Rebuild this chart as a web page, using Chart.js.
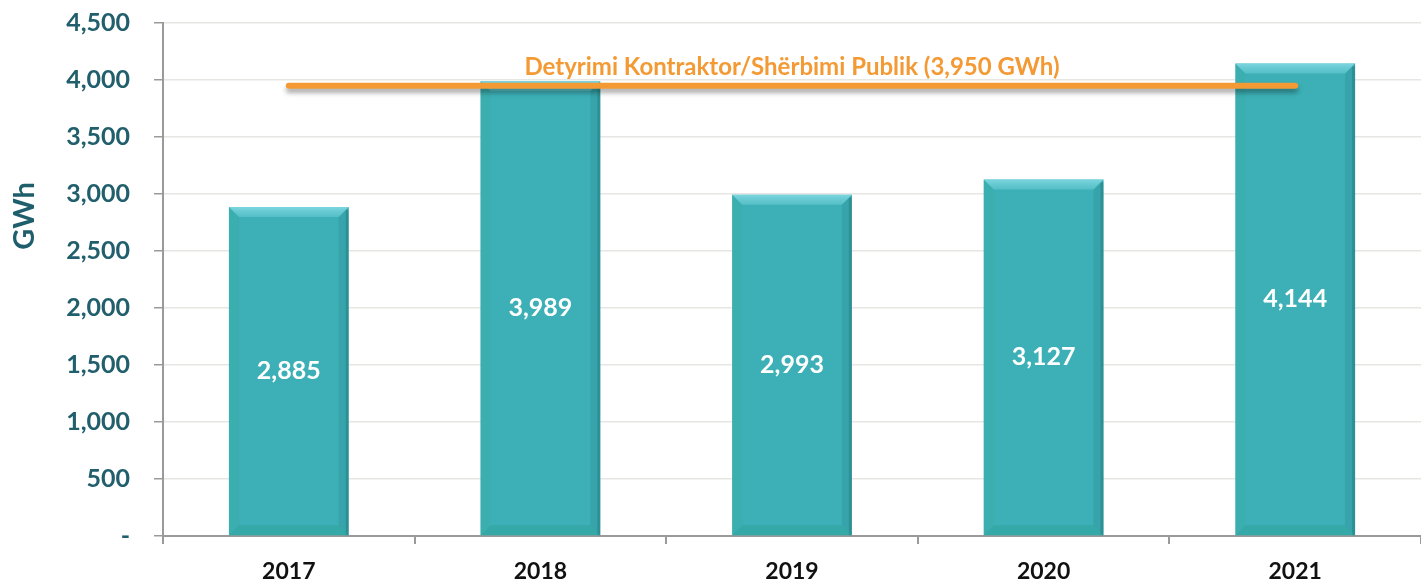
<!DOCTYPE html>
<html><head><meta charset="utf-8">
<script src="https://cdn.jsdelivr.net/npm/chart.js@4/dist/chart.umd.min.js"></script>
<style>html,body{margin:0;padding:0;background:#fff;}#wrap{width:1421px;height:582px;position:relative;}</style>
</head><body><div id="wrap"><canvas id="c" width="1421" height="582"></canvas></div>
<script>
const categories = ['2017','2018','2019','2020','2021'];
const production = [2885, 3989, 2993, 3127, 4144];
const obligation = [3950, 3950, 3950, 3950, 3950];
const obligationLabel = 'Detyrimi Kontraktor/Shërbimi Publik (3,950 GWh)';
const yTicks = [0,500,1000,1500,2000,2500,3000,3500,4000,4500];
const yTitle = 'GWh';

const FONT = 'Lato';
const fmt = v => v === 0 ? '-' : v.toLocaleString('en-US');

const bevelPlugin = {
  id: 'bevel',
  afterDatasetDraw(chart, args) {
    if (args.index !== 0) return;
    const ctx = chart.ctx;
    const meta = chart.getDatasetMeta(0);
    meta.data.forEach((bar, i) => {
      const l = bar.x - bar.width/2, r = bar.x + bar.width/2, t = bar.y, b = bar.base;
      const bw = 10;
      ctx.save();
      // right darker strip
      ctx.fillStyle = 'rgba(30,120,125,0.2)';
      ctx.beginPath(); ctx.moveTo(r, t); ctx.lineTo(r-bw, t+bw); ctx.lineTo(r-bw, b-bw); ctx.lineTo(r, b); ctx.closePath(); ctx.fill();
      ctx.fillStyle = 'rgba(30,110,115,0.35)';
      ctx.fillRect(r-3, t+3, 3, b-t-3);
      // top highlight
      const g = ctx.createLinearGradient(0, t, 0, t+bw);
      g.addColorStop(0, 'rgba(135,220,230,0.85)');
      g.addColorStop(1, 'rgba(110,205,215,0.5)');
      ctx.fillStyle = g;
      ctx.beginPath(); ctx.moveTo(l, t); ctx.lineTo(r, t); ctx.lineTo(r-bw, t+bw); ctx.lineTo(l+bw, t+bw); ctx.closePath(); ctx.fill();
      // bottom
      ctx.fillStyle = 'rgba(40,150,135,0.3)';
      ctx.beginPath(); ctx.moveTo(l, b); ctx.lineTo(r, b); ctx.lineTo(r-bw, b-bw); ctx.lineTo(l+bw, b-bw); ctx.closePath(); ctx.fill();
      // left
      ctx.fillStyle = 'rgba(60,170,160,0.3)';
      ctx.beginPath(); ctx.moveTo(l, t); ctx.lineTo(l+bw, t+bw); ctx.lineTo(l+bw, b-bw); ctx.lineTo(l, b); ctx.closePath(); ctx.fill();
      // value
      ctx.fillStyle = '#ffffff';
      ctx.font = 'bold 25px ' + FONT;
      ctx.textAlign = 'center'; ctx.textBaseline = 'middle';
      ctx.fillText(production[i].toLocaleString('en-US'), bar.x, (t + b)/2);
      ctx.restore();
    });
  }
};

const lineShadow = {
  id: 'lineShadow',
  beforeDatasetDraw(chart, args) {
    if (args.index !== 1) return;
    const ctx = chart.ctx;
    ctx.save();
    ctx.shadowColor = 'rgba(0,0,0,0.35)';
    ctx.shadowBlur = 5;
    ctx.shadowOffsetY = 4;
  },
  afterDatasetDraw(chart, args) {
    if (args.index !== 1) return;
    chart.ctx.restore();
    const ctx = chart.ctx;
    const y = chart.scales.y.getPixelForValue(obligation[2]);
    const x = chart.scales.x.getPixelForValue(2);
    ctx.save();
    ctx.fillStyle = '#F39A35';
    ctx.font = 'bold 24px ' + FONT;
    ctx.textAlign = 'center'; ctx.textBaseline = 'middle';
    ctx.fillText(obligationLabel, x, y - 18);
    ctx.restore();
  }
};

const yTitlePlugin = {
  id: 'yTitle',
  afterDraw(chart) {
    const ctx = chart.ctx;
    ctx.save();
    ctx.translate(25, 216);
    ctx.rotate(-Math.PI/2);
    ctx.fillStyle = '#1F5F6C';
    ctx.font = 'bold 29px ' + FONT;
    ctx.textAlign = 'center'; ctx.textBaseline = 'middle';
    ctx.fillText(yTitle, 0, 0);
    ctx.restore();
  }
};

new Chart(document.getElementById('c'), {
  data: {
    labels: categories,
    datasets: [
      { type: 'bar', data: production, order: 2, backgroundColor: '#3CB0B6', borderWidth: 0, barPercentage: 0.476, categoryPercentage: 1.0 },
      { type: 'line', data: obligation, order: 1, borderColor: '#F39A35', borderWidth: 6, borderCapStyle: 'round', pointRadius: 0, tension: 0, fill: false }
    ]
  },
  options: {
    responsive: false,
    animation: false,
    events: [],
    layout: { padding: { left: 0, right: 0, top: 23, bottom: 0 } },
    plugins: { legend: { display: false }, tooltip: { enabled: false } },
    scales: {
      x: {
        afterFit: s => { s.height = 46; s.paddingLeft = 0; s.paddingRight = 0; },
        grid: { display: true, drawOnChartArea: false, offset: true, color: '#9A9A9A', tickLength: 8, lineWidth: 2 },
        border: { color: '#9A9A9A', width: 2 },
        ticks: { color: '#111', font: { family: FONT, weight: 'bold', size: 23 }, padding: 14 }
      },
      y: {
        min: 0, max: 4500,
        afterBuildTicks: s => { s.ticks = yTicks.map(v => ({ value: v })); },
        afterFit: s => { s.width = 163; s.paddingTop = 0; s.paddingBottom = 0; },
        grid: { color: '#E6E6E2', lineWidth: 1.5, tickColor: '#9A9A9A', tickLength: 9 },
        border: { color: '#9A9A9A', width: 2 },
        ticks: { color: '#215F6C', font: { family: FONT, weight: 'bold', size: 25 }, padding: 24, callback: v => fmt(v) }
      }
    }
  },
  plugins: [bevelPlugin, lineShadow, yTitlePlugin]
});
</script></body></html>
